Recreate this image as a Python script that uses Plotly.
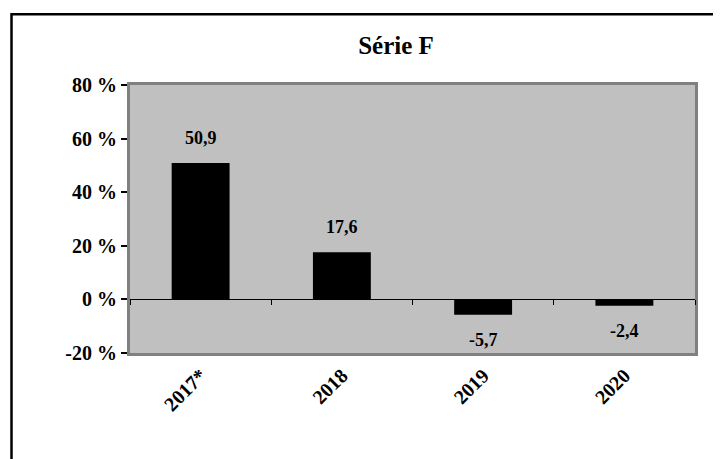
import plotly.graph_objects as go

categories = ["2017*", "2018", "2019", "2020"]
values = [50.9, 17.6, -5.7, -2.4]
y_ticks = [-20, 0, 20, 40, 60, 80]
title = "Série F"

FONT = "Liberation Serif, Times New Roman, serif"

fig = go.Figure()
fig.add_trace(go.Bar(
    x=categories, y=values, marker=dict(color="black", line=dict(color="black", width=0)),
    width=0.41, hoverinfo="skip",
))
# invisible trace on secondary x-axis (zero-line axis with boundary ticks)
fig.add_trace(go.Scatter(x=categories, y=[0] * len(categories), xaxis="x2", mode="markers",
                         marker=dict(opacity=0), showlegend=False, hoverinfo="skip"))

for i, v in enumerate(values):
    fig.add_annotation(
        x=i, y=v, xref="x", yref="y",
        text="<b>" + f"{v:.1f}".replace(".", ",") + "</b>", showarrow=False,
        yshift=25 if v >= 0 else -25,
        font=dict(family=FONT, size=18, color="black"),
    )

# page body has an 8px margin: figure coords = reference coords - 8
OFF = 8
L, R, T, B = 130 - OFF, 695 - OFF, 85 - OFF, 353.5 - OFF
W, H = 721, 459
pw, ph = R - L, B - T
rng = [-0.5, len(categories) - 0.5]

fig.update_layout(
    width=W, height=H,
    margin=dict(l=L, r=W - R, t=T, b=H - B, pad=0),
    paper_bgcolor="white", plot_bgcolor="#C0C0C0",
    showlegend=False,
    title=dict(text=f"<b>{title}</b>", x=(396 - OFF) / W, xanchor="center",
               y=1 - (45 - OFF) / H, yanchor="middle",
               font=dict(family=FONT, size=25, color="black")),
    font=dict(family=FONT, color="black"),
    xaxis=dict(
        type="category", categoryarray=categories, range=rng, automargin=False,
        showline=True, linecolor="#808080", linewidth=3, mirror=True,
        ticks="", tickangle=-45, tickfont=dict(family=FONT, size=20, color="black"),
        tickprefix="<b>", ticksuffix="</b>", showgrid=False,
    ),
    xaxis2=dict(
        type="category", categoryarray=categories, range=rng, automargin=False,
        overlaying="x", anchor="free", position=0.2,
        showline=True, linecolor="black", linewidth=1, ticks="outside", ticklen=5,
        tickcolor="black", tickson="boundaries", showticklabels=False, showgrid=False,
        side="bottom",
    ),
    yaxis=dict(
        range=[-20, 80], tickvals=y_ticks, ticktext=[f"<b>{t} %</b>" for t in y_ticks],
        automargin=False,
        showline=True, linecolor="#808080", linewidth=3, mirror=True,
        ticks="outside", ticklen=6, tickcolor="black", tickwidth=1.5,
        tickfont=dict(family=FONT, size=20, color="black"), showgrid=False,
        zeroline=False,
    ),
)

# outer frame of the chart (cut off at right and bottom)
fig.add_shape(type="rect", xref="paper", yref="paper",
              x0=(11.5 - OFF - L) / pw, x1=(W + 30 - L) / pw,
              y0=-(H + 30 - B) / ph, y1=1 + (T - (14 - OFF)) / ph,
              line=dict(color="black", width=2.5), layer="below")

fig.write_html("out.html")
